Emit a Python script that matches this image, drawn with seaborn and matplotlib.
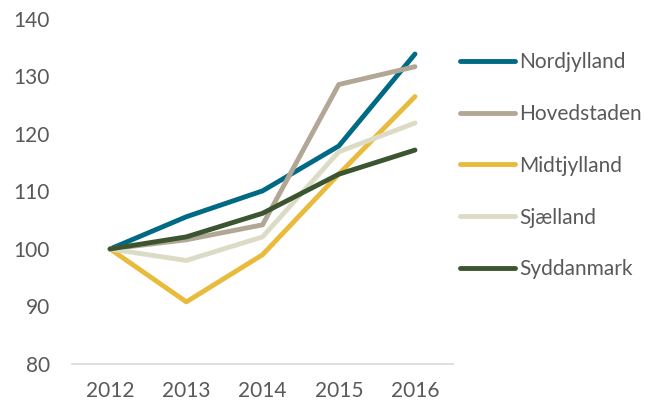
import pandas as pd
import matplotlib
matplotlib.use("Agg")
import matplotlib.pyplot as plt
import seaborn as sns

years = [2012, 2013, 2014, 2015, 2016]
regions = ["Nordjylland", "Hovedstaden", "Midtjylland", "Sjælland", "Syddanmark"]
nordjylland = [100, 105.6, 110.1, 117.9, 133.9]
hovedstaden = [100, 101.6, 104.2, 128.6, 131.7]
midtjylland = [100, 90.8, 99.0, 113.0, 126.5]
sjaelland = [100, 98.0, 102.1, 116.9, 121.9]
syddanmark = [100, 102.1, 106.2, 113.0, 117.2]
colors = ["#006a84", "#b1a794", "#e9bb3c", "#dcdcc6", "#3b5530"]


def main():
    series = [nordjylland, hovedstaden, midtjylland, sjaelland, syddanmark]
    rows = []
    for name, vals in zip(regions, series):
        for yr, v in zip(years, vals):
            rows.append({"year": yr, "value": v, "region": name})
    df = pd.DataFrame(rows)

    sns.set_style("white")
    plt.rcParams["font.family"] = ["Lato", "DejaVu Sans"]

    fig = plt.figure(figsize=(6.51, 4.03), dpi=100)
    ax = fig.add_axes([0.1106, 0.0968, 0.5854, 0.8562])
    sns.lineplot(data=df, x="year", y="value", hue="region", hue_order=regions,
                 palette=colors, linewidth=3.5, ax=ax, legend=False,
                 solid_capstyle="round")

    ax.set_xlim(2011.5, 2016.5)
    ax.set_ylim(80, 140)
    ax.set_xticks(years)
    ax.set_yticks(range(80, 141, 10))
    ax.set_xlabel("")
    ax.set_ylabel("")
    ax.tick_params(axis="both", labelsize=15, colors="#595959", length=0)
    ax.tick_params(axis="y", pad=16)
    ax.tick_params(axis="x", pad=12)
    for s in ["top", "right", "left"]:
        ax.spines[s].set_visible(False)
    ax.spines["bottom"].set_color("#d9d9d9")
    ax.spines["bottom"].set_linewidth(1.2)

    handles = [plt.Line2D([0], [0], color=c, linewidth=3.5, solid_capstyle="round") for c in colors]
    fig.legend(handles, regions, loc="upper left", bbox_to_anchor=(0.707, 0.871),
               frameon=False, fontsize=15, labelcolor="#595959",
               handlelength=2.64, handletextpad=0.18, labelspacing=1.53,
               borderpad=0, borderaxespad=0)

    fig.savefig("out.png", dpi=100)


if __name__ == "__main__":
    main()
